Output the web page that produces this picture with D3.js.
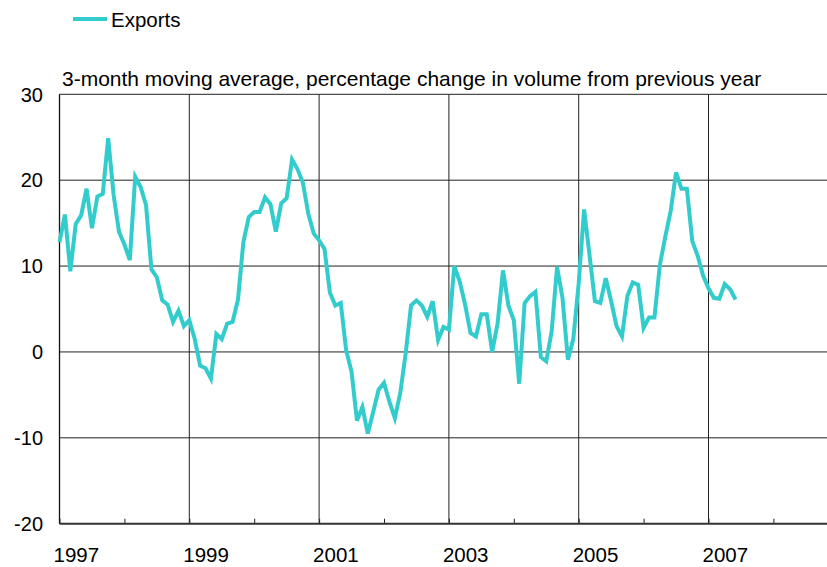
<!DOCTYPE html>
<html>
<head>
<meta charset="utf-8">
<script src="https://cdn.jsdelivr.net/npm/d3@7"></script>
<style>
  html, body { margin: 0; padding: 0; background: #fff; }
  svg { display: block; font-family: Arial, "Liberation Sans", sans-serif; }
</style>
</head>
<body>
<svg id="chart" width="827" height="567"></svg>
<script>
// Monthly series, starting January 1997
const startYear = 1997;
const seriesName = "Exports";
const subtitle = "3-month moving average, percentage change in volume from previous year";
const exportsGrowth = [
  12.8, 16.0, 9.4, 14.9, 15.9, 19.0, 14.4, 18.1, 18.4, 24.9, 18.3, 14.0,
  12.5, 10.7, 20.4, 19.2, 17.1, 9.6, 8.7, 6.0, 5.5, 3.5, 4.8, 3.0,
  3.7, 1.5, -1.6, -1.9, -3.1, 2.1, 1.5, 3.3, 3.5, 6.1, 12.8, 15.7,
  16.3, 16.3, 18.0, 17.2, 14.0, 17.3, 17.9, 22.4, 21.3, 19.7, 16.1, 13.8,
  13.0, 12.0, 6.9, 5.4, 5.7, 0.2, -2.3, -8.0, -6.4, -9.5, -7.0, -4.4,
  -3.6, -5.8, -7.7, -4.8, -0.2, 5.4, 6.0, 5.4, 4.1, 5.9, 1.4, 2.9,
  2.6, 10.0, 8.2, 5.5, 2.2, 1.8, 4.4, 4.4, 0.0, 3.3, 9.5, 5.4,
  3.7, -3.7, 5.7, 6.5, 7.0, -0.6, -1.1, 2.4, 9.9, 6.3, -0.9, 1.5,
  8.0, 16.6, 11.3, 5.9, 5.7, 8.6, 5.9, 3.0, 1.8, 6.5, 8.1, 7.8,
  2.8, 4.0, 4.0, 10.1, 13.4, 16.4, 20.9, 19.0, 19.0, 12.9, 11.2, 8.9,
  7.4, 6.3, 6.2, 7.9, 7.3, 6.1
];
const yTicks = [-20, -10, 0, 10, 20, 30];
const xLabelYears = [1997, 1999, 2001, 2003, 2005, 2007];
const xTickYears = [1997, 1998, 1999, 2000, 2001, 2002, 2003, 2004, 2005, 2006, 2007, 2008];
const gridYears = [1999, 2001, 2003, 2005, 2007];

const lineColor = "#33cccc";
const svg = d3.select("#chart");

const plotLeft = 59.5, plotRight = 827, plotTop = 94.3, plotBottom = 523.7;
const x = d3.scaleLinear().domain([1997, 2009]).range([plotLeft, plotLeft + 12 * 64.9]);
const y = d3.scaleLinear().domain([-20, 30]).range([plotBottom, plotTop]);

const points = exportsGrowth.map((v, i) => ({ t: startYear + i / 12, v }));

// horizontal gridlines
svg.append("g").selectAll("line")
  .data(yTicks.filter(d => d > -20 && d < 30))
  .join("line")
  .attr("x1", plotLeft).attr("x2", plotRight)
  .attr("y1", d => y(d)).attr("y2", d => y(d))
  .attr("stroke", "#222").attr("stroke-width", 1);

// vertical gridlines
svg.append("g").selectAll("line")
  .data(gridYears)
  .join("line")
  .attr("x1", d => x(d)).attr("x2", d => x(d))
  .attr("y1", plotTop).attr("y2", plotBottom)
  .attr("stroke", "#222").attr("stroke-width", 1);

// top border
svg.append("line")
  .attr("x1", plotLeft).attr("x2", plotRight).attr("y1", plotTop).attr("y2", plotTop)
  .attr("stroke", "#222").attr("stroke-width", 1);

// left axis line
svg.append("line")
  .attr("x1", plotLeft).attr("x2", plotLeft).attr("y1", plotTop).attr("y2", plotBottom)
  .attr("stroke", "#111").attr("stroke-width", 1.3);

// bottom axis with year ticks pointing inward
const xAxis = d3.axisBottom(x)
  .tickValues(xTickYears)
  .tickSize(-5)
  .tickFormat("");
const gx = svg.append("g").attr("transform", `translate(0,${plotBottom})`).call(xAxis);
gx.select(".domain").remove();
gx.selectAll(".tick line").attr("stroke", "#222").attr("stroke-width", 1);
svg.append("line")
  .attr("x1", plotLeft).attr("x2", plotRight).attr("y1", plotBottom).attr("y2", plotBottom)
  .attr("stroke", "#333").attr("stroke-width", 2);

// year labels
svg.append("g").selectAll("text")
  .data(xLabelYears)
  .join("text")
  .attr("x", d => x(d) - 6)
  .attr("y", 562)
  .attr("font-size", 20.5)
  .attr("fill", "#000")
  .text(d => String(d));

// value labels
svg.append("g").selectAll("text")
  .data(yTicks)
  .join("text")
  .attr("x", 43)
  .attr("y", d => y(d))
  .attr("dy", "0.36em")
  .attr("text-anchor", "end")
  .attr("font-size", 20)
  .attr("fill", "#000")
  .text(d => String(d));

// subtitle
svg.append("text")
  .attr("x", 62).attr("y", 86)
  .attr("font-size", 21)
  .attr("fill", "#000")
  .text(subtitle);

// series line
const line = d3.line().x(d => x(d.t)).y(d => y(d.v));
svg.append("path")
  .datum(points)
  .attr("d", line)
  .attr("fill", "none")
  .attr("stroke", lineColor)
  .attr("stroke-width", 4)
  .attr("stroke-linejoin", "miter")
  .attr("stroke-miterlimit", 4);

// legend
const legend = svg.append("g");
legend.append("line")
  .attr("x1", 73).attr("x2", 107).attr("y1", 19).attr("y2", 19)
  .attr("stroke", lineColor).attr("stroke-width", 4);
legend.append("text")
  .attr("x", 111).attr("y", 27)
  .attr("font-size", 20.5)
  .attr("fill", "#000")
  .text(seriesName);
</script>
</body>
</html>
